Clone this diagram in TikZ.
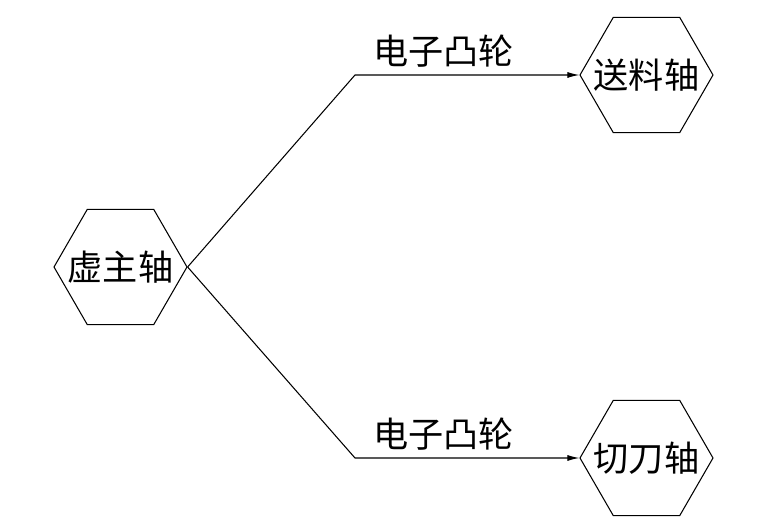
\documentclass[tikz,border=0pt]{standalone}
\usepackage{fontspec}
\newfontfamily\cjk{Noto Sans CJK SC}
\usetikzlibrary{arrows.meta, positioning, shapes.geometric}
\newcommand\axistext[1]{\makebox[0pt]{#1}}
\tikzset{
  every picture/.style={line width=0.6pt},
  axis/.style={draw, regular polygon, regular polygon sides=6,
    minimum size=2.66cm, inner sep=0pt, font=\cjk\fontsize{20}{24}\selectfont},
  arrow/.style={-{Latex[length=2.4mm, width=1.2mm]}},
  cam/.style={font=\cjk\fontsize{20}{24}\selectfont, above=1pt, pos=0.395},
}
\begin{document}
\begin{tikzpicture}
  \useasboundingbox (0,0) rectangle (15.26,10.62);
  \node[axis] (master) at (2.41,5.28) {\axistext{虚主轴}};
  \node[axis] (feed) at (12.93,9.12) {\axistext{送料轴}};
  \node[axis] (cut) at (12.93,1.46) {\axistext{切刀轴}};
  \coordinate (bendfeed) at (7.10,9.12);
  \coordinate (bendcut) at (7.10,1.46);
  \draw[arrow] (master.east) -- (bendfeed) -- (feed.west) node[cam] {电子凸轮};
  \draw[arrow] (master.east) -- (bendcut) -- (cut.west) node[cam] {电子凸轮};
\end{tikzpicture}
\end{document}
